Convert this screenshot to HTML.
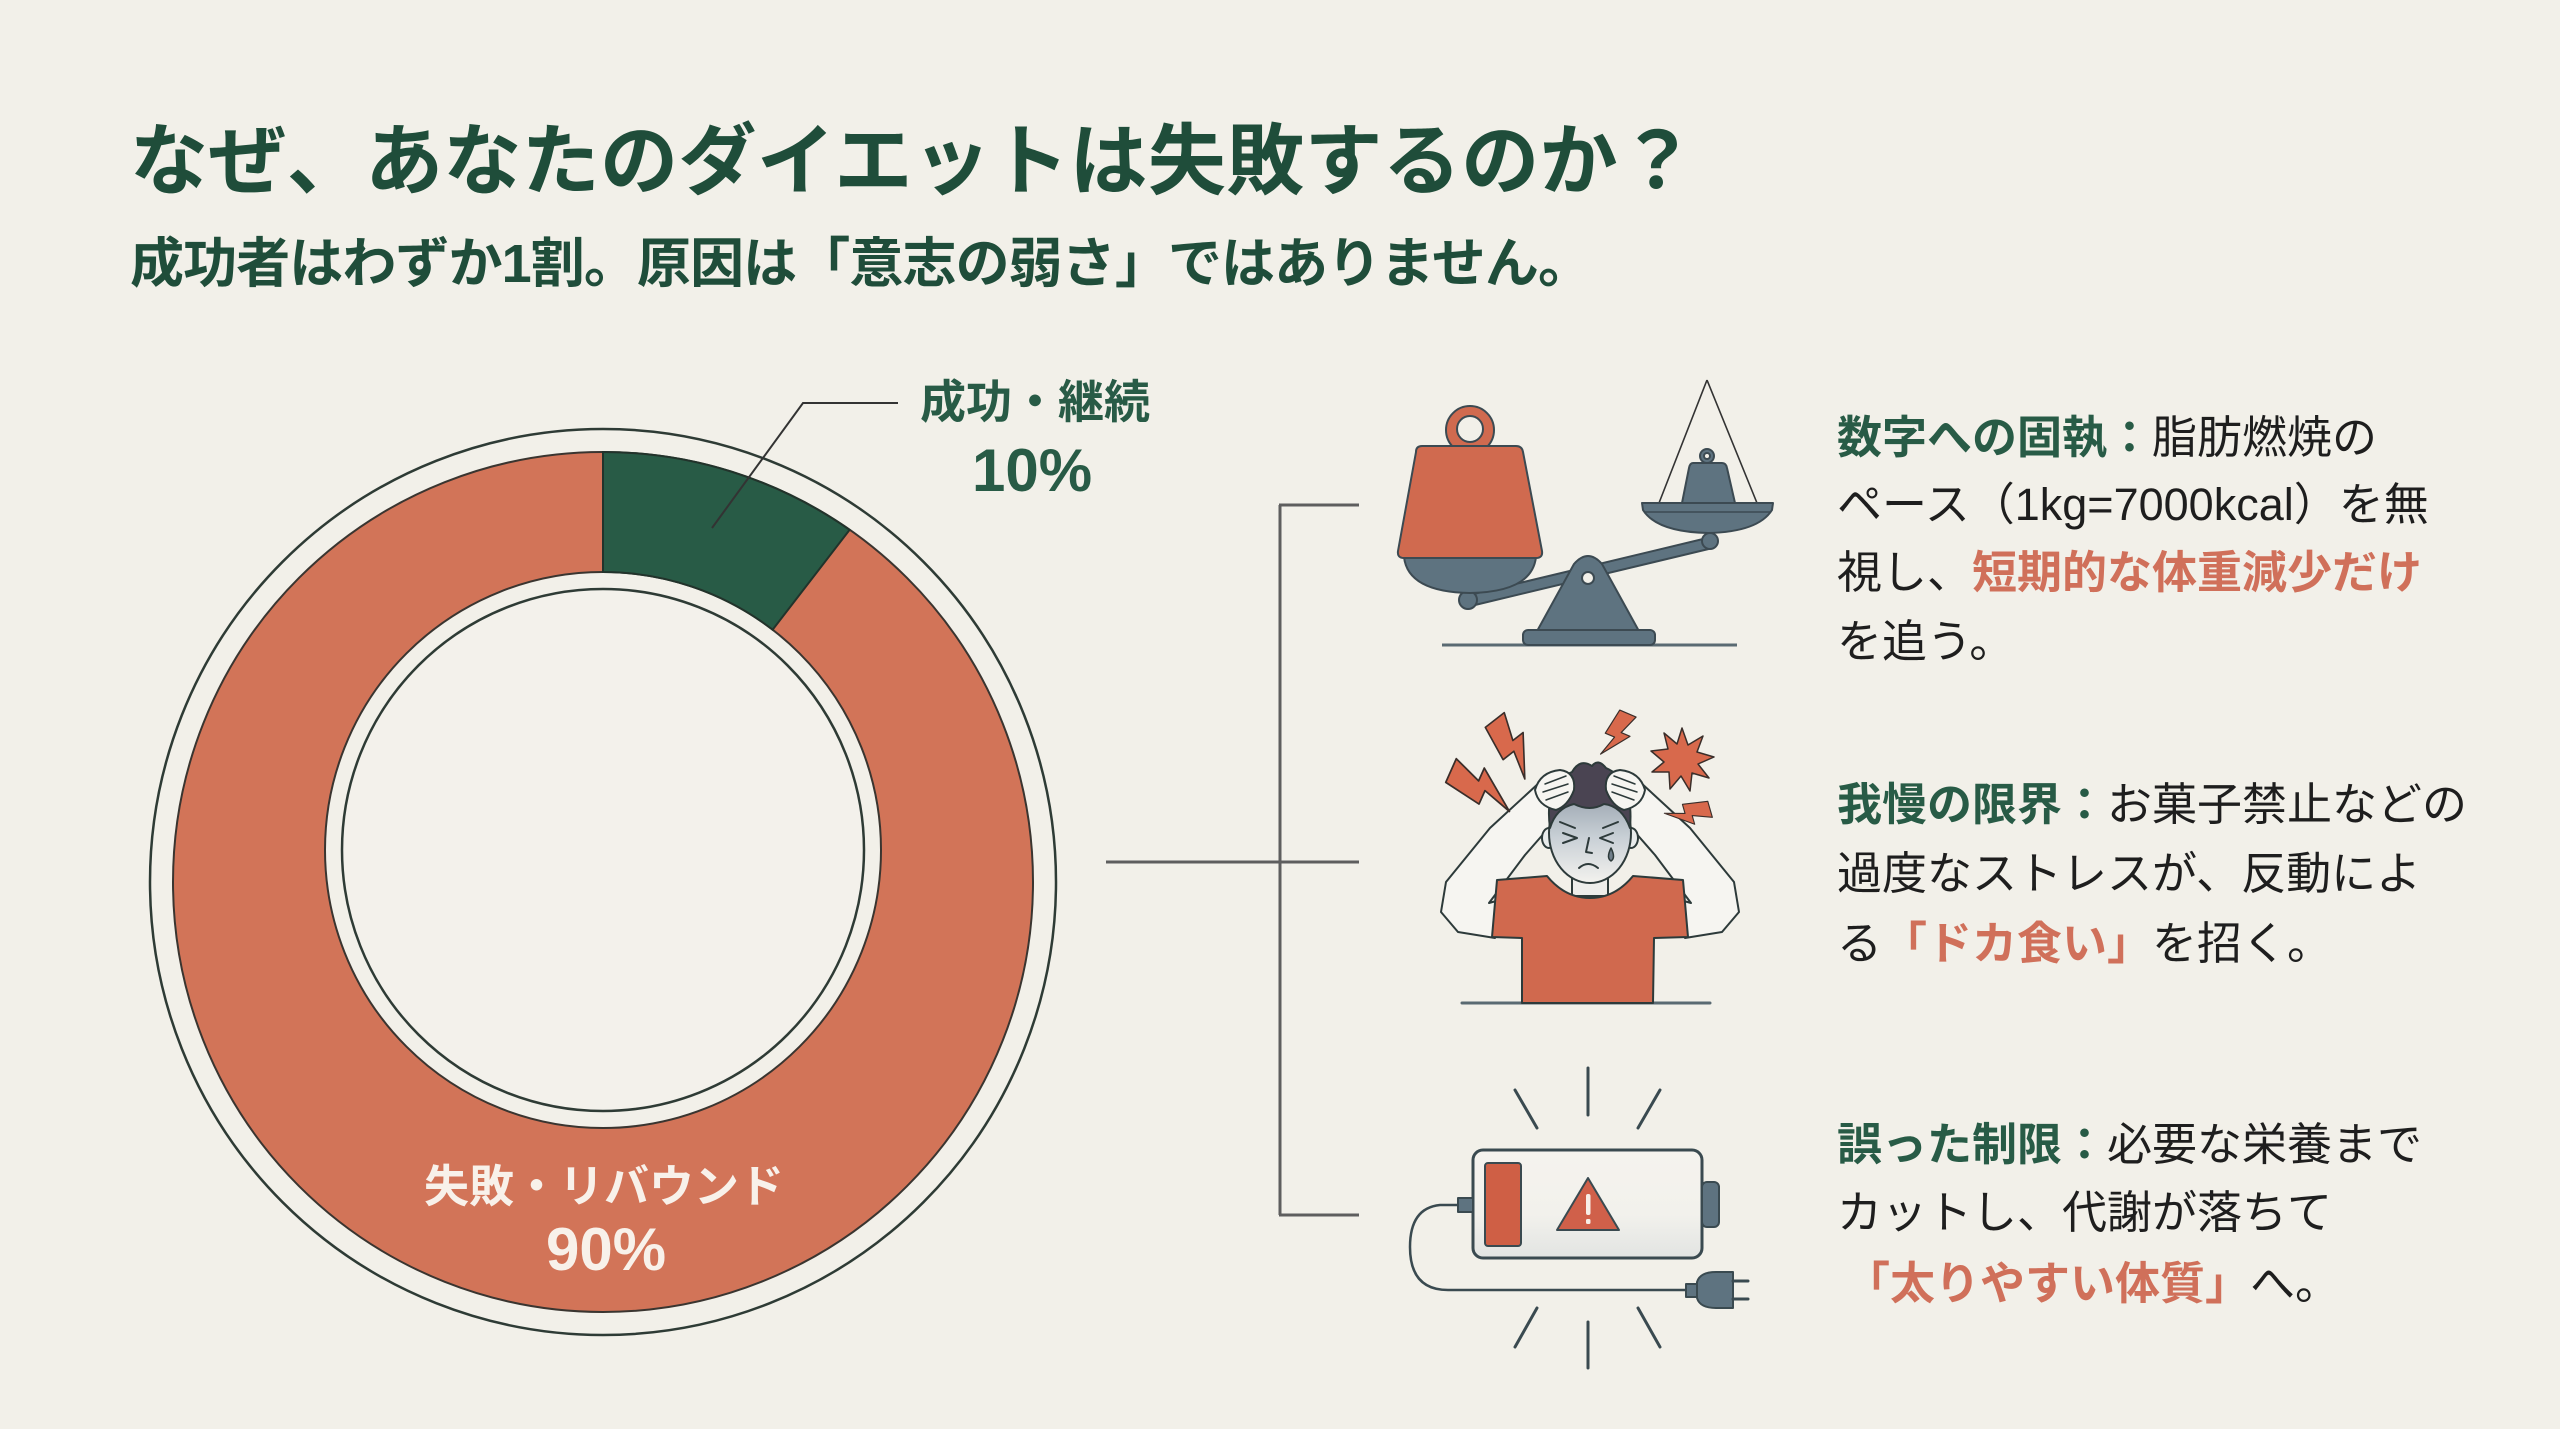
<!DOCTYPE html>
<html lang="ja">
<head>
<meta charset="utf-8">
<style>
  html,body{margin:0;padding:0;background:#F2F0E9;}
  svg{display:block;}
  text{font-family:"Liberation Sans","Noto Sans CJK JP",sans-serif;}
</style>
</head>
<body>
<svg width="2560" height="1429" viewBox="0 0 2560 1429" xmlns="http://www.w3.org/2000/svg">
  <defs>
    <linearGradient id="faceG" x1="0" y1="0" x2="0" y2="1">
      <stop offset="0" stop-color="#8E9AA6"/>
      <stop offset="0.55" stop-color="#C9D0D6"/>
      <stop offset="1" stop-color="#F3F2EE"/>
    </linearGradient>
    <linearGradient id="batG" x1="0" y1="0" x2="0" y2="1">
      <stop offset="0" stop-color="#F5F3EE"/>
      <stop offset="0.6" stop-color="#F2F1EC"/>
      <stop offset="1" stop-color="#E2E4E2"/>
    </linearGradient>
    <path id="bolt" d="M-0.15,-0.5 L0.22,-0.5 L0.06,-0.08 L0.26,-0.08 L-0.16,0.5 L-0.03,0.06 L-0.24,0.06 Z"/>
  </defs>

  <rect x="0" y="0" width="2560" height="1429" fill="#F2F0E9"/>

  <!-- Title -->
  <text x="130" y="188" font-size="78" font-weight="bold" fill="#1F4D3A" textLength="1566" lengthAdjust="spacing">なぜ、あなたのダイエットは失敗するのか？</text>
  <text x="130" y="282" font-size="54" font-weight="bold" fill="#1F4D3A" textLength="1462" lengthAdjust="spacing">成功者はわずか1割。原因は「意志の弱さ」ではありません。</text>

  <!-- Donut -->
  <circle cx="603" cy="882" r="453" fill="none" stroke="#2E3B35" stroke-width="2.5"/>
  <path fill="#D27458" fill-rule="evenodd" stroke="#3A3530" stroke-width="2"
        d="M173,882 A430,430 0 1,0 1033,882 A430,430 0 1,0 173,882 Z M325,850 A278,278 0 1,0 881,850 A278,278 0 1,0 325,850 Z"/>
  <path fill="#285B46" stroke="#22332B" stroke-width="2"
        d="M603,452 A430,430 0 0,1 849.6,529.8 L772.6,629.7 A278,278 0 0,0 603,572 Z"/>
  <circle cx="603" cy="850" r="261" fill="#F3F1EB" stroke="#2E3B35" stroke-width="2.5"/>

  <!-- Leader line -->
  <polyline points="712,528 803,403 898,403" fill="none" stroke="#333" stroke-width="2"/>
  <text x="1035" y="418" font-size="46" font-weight="bold" fill="#285B46" text-anchor="middle">成功・継続</text>
  <text x="1032" y="491" font-size="60" font-weight="bold" fill="#285B46" text-anchor="middle">10%</text>

  <text x="604" y="1202" font-size="45" font-weight="bold" fill="#F8F1EA" text-anchor="middle">失敗・リバウンド</text>
  <text x="606" y="1270" font-size="60" font-weight="bold" fill="#F8F1EA" text-anchor="middle">90%</text>

  <!-- Bracket lines -->
  <g stroke="#5E5E5E" stroke-width="3" fill="none">
    <line x1="1106" y1="862" x2="1359" y2="862"/>
    <line x1="1280" y1="505" x2="1280" y2="1215"/>
    <line x1="1279" y1="505" x2="1359" y2="505"/>
    <line x1="1279" y1="1215" x2="1359" y2="1215"/>
  </g>

  <!-- Scale icon -->
  <g stroke="#3C4A52" stroke-width="2" stroke-linejoin="round">
    <line x1="1442" y1="645" x2="1737" y2="645" stroke="#5A6A72" stroke-width="3"/>
    <!-- right pan strings -->
    <line x1="1707" y1="380" x2="1659" y2="503" stroke="#333" stroke-width="1.6"/>
    <line x1="1707" y1="380" x2="1757" y2="503" stroke="#333" stroke-width="1.6"/>
    <!-- beam -->
    <line x1="1468" y1="601" x2="1710" y2="543" stroke="#3C4A52" stroke-width="13" stroke-linecap="round"/>
    <line x1="1468" y1="601" x2="1710" y2="543" stroke="#5E7380" stroke-width="9" stroke-linecap="round"/>
    <circle cx="1468" cy="600" r="9" fill="#5E7380"/>
    <circle cx="1710" cy="541" r="8" fill="#5E7380"/>
    <!-- fulcrum -->
    <path d="M1536,633 L1574,564 Q1588,548 1602,564 L1640,633 Z" fill="#5E7380"/>
    <circle cx="1588" cy="578" r="6" fill="#F2F0E9"/>
    <rect x="1523" y="630" width="132" height="15" rx="5" fill="#5E7380"/>
    <!-- left bowl -->
    <path d="M1404,557 L1536,557 Q1532,592 1470,593 Q1408,592 1404,557 Z" fill="#5E7380"/>
    <!-- big weight -->
    <circle cx="1470" cy="430" r="24" fill="#D06A4F"/>
    <circle cx="1470" cy="429" r="13" fill="#F2F0E9"/>
    <path d="M1416,452 Q1416,446 1422,446 L1516,446 Q1522,446 1523,452 L1542,551 Q1543,558 1536,558 L1404,558 Q1397,558 1398,551 Z" fill="#D06A4F"/>
    <!-- small weight -->
    <circle cx="1707" cy="456" r="7" fill="#5E7380"/>
    <circle cx="1707" cy="456" r="3" fill="#F2F0E9"/>
    <path d="M1693,463 L1722,463 Q1726,463 1727,468 L1735,503 L1682,503 L1689,468 Q1690,463 1693,463 Z" fill="#5E7380"/>
    <!-- pan -->
    <path d="M1642,503 L1773,503 L1772,510 Q1758,532 1708,533 Q1657,532 1643,510 Z" fill="#5E7380"/>
    <line x1="1644" y1="512" x2="1771" y2="512" stroke="#3C4A52" stroke-width="1.5"/>
  </g>

  <!-- Stressed person icon -->
  <g stroke="#2D3A3A" stroke-width="2" stroke-linejoin="round" stroke-linecap="round">
    <line x1="1462" y1="1003" x2="1710" y2="1003" stroke="#5A6A72" stroke-width="3"/>
    <!-- arms -->
    <path id="armL" d="M1540,782 L1490,828 L1446,882 L1441,912 L1458,932 L1495,938 L1500,900 L1489,903 L1525,855 L1553,823 L1565,800 Z" fill="#F6F5F1"/>
    <path d="M1540,782 L1490,828 L1446,882 L1441,912 L1458,932 L1495,938 L1500,900 L1489,903 L1525,855 L1553,823 L1565,800 Z" fill="#F6F5F1" transform="translate(3180,0) scale(-1,1)"/>
    <!-- neck -->
    <rect x="1572" y="862" width="36" height="34" fill="#EDEDEA"/>
    <!-- shirt -->
    <path d="M1497,880 L1547,876 Q1565,898 1590,898 Q1615,898 1633,876 L1683,880 L1688,937 L1654,938 L1653,1003 L1522,1003 L1522,938 L1492,937 Z" fill="#D0694E"/>
    <!-- head -->
    <ellipse cx="1549" cy="838" rx="7" ry="10" fill="#E9ECEC"/>
    <ellipse cx="1631" cy="838" rx="7" ry="10" fill="#E9ECEC"/>
    <ellipse cx="1590" cy="833" rx="41" ry="50" fill="url(#faceG)"/>
    <!-- hair -->
    <path d="M1550,828 Q1544,784 1572,772 Q1580,758 1592,766 Q1598,758 1606,768 Q1634,780 1630,828 Q1622,806 1604,804 Q1590,812 1574,804 Q1556,808 1550,828 Z" fill="#4A4452"/>
    <!-- face details -->
    <path d="M1563,833 L1577,838 L1563,843" fill="none"/>
    <path d="M1613,833 L1600,838 L1613,843" fill="none"/>
    <path d="M1560,822 L1575,828" fill="none"/>
    <path d="M1618,822 L1603,828" fill="none"/>
    <path d="M1589,838 L1586,852 L1592,853" fill="none"/>
    <path d="M1579,868 Q1588,860 1598,868" fill="none"/>
    <path d="M1611,848 Q1606,858 1611,861 Q1616,858 1611,848 Z" fill="#6F7E8A" stroke-width="1.5"/>
    <!-- hands -->
    <path d="M1535,790 Q1540,772 1560,770 Q1576,772 1574,790 Q1568,806 1556,810 Q1538,806 1535,790 Z" fill="#F6F5F1"/>
    <path d="M1545,784 L1566,776 M1543,792 L1568,784 M1546,800 L1568,792" fill="none" stroke-width="1.5"/>
    <path d="M1535,790 Q1540,772 1560,770 Q1576,772 1574,790 Q1568,806 1556,810 Q1538,806 1535,790 Z" fill="#F6F5F1" transform="translate(3180,0) scale(-1,1)"/>
    <path d="M1545,784 L1566,776 M1543,792 L1568,784 M1546,800 L1568,792" fill="none" stroke-width="1.5" transform="translate(3180,0) scale(-1,1)"/>
    <!-- bolts -->
    <g fill="#D8694C" stroke="#3A2E2A" stroke-width="0.025">
      <use href="#bolt" transform="translate(1482,787) rotate(-66) scale(70)"/>
      <use href="#bolt" transform="translate(1513,747) rotate(-38) scale(65)"/>
      <use href="#bolt" transform="translate(1617,735) rotate(23) scale(48)"/>
      <use href="#bolt" transform="translate(1688,814) rotate(74) scale(45)"/>
    </g>
    <polygon fill="#D8694C" stroke="#3A2E2A" stroke-width="1.5"
      points="1682,728 1688,745 1703,736 1697,752 1714,757 1698,764 1709,778 1692,773 1690,791 1681,776 1670,789 1669,772 1652,772 1664,762 1651,751 1668,749 1664,733 1677,744"/>
  </g>

  <!-- Battery icon -->
  <g stroke="#3A4A50" stroke-width="3" stroke-linecap="round" stroke-linejoin="round" fill="none">
    <line x1="1588" y1="1068" x2="1588" y2="1115"/>
    <line x1="1515" y1="1090" x2="1537" y2="1128"/>
    <line x1="1660" y1="1090" x2="1638" y2="1128"/>
    <line x1="1588" y1="1322" x2="1588" y2="1368"/>
    <line x1="1537" y1="1308" x2="1515" y2="1347"/>
    <line x1="1638" y1="1308" x2="1660" y2="1347"/>
    <path d="M1458,1205 L1440,1205 Q1410,1208 1410,1247 Q1410,1290 1448,1290 L1688,1290" stroke-width="2.5"/>
    <rect x="1473" y="1150" width="229" height="108" rx="10" fill="url(#batG)"/>
    <rect x="1702" y="1182" width="17" height="45" rx="5" fill="#5E7380" stroke-width="2"/>
    <rect x="1458" y="1198" width="15" height="14" fill="#5E7380" stroke-width="2"/>
    <rect x="1485" y="1163" width="36" height="83" rx="3" fill="#CF5F45" stroke-width="2"/>
    <path d="M1588,1178 L1619,1230 L1557,1230 Z" fill="#D0604A" stroke-width="2"/>
    <rect x="1686" y="1284" width="11" height="13" fill="#5E7380" stroke-width="2"/>
    <path d="M1697,1282 Q1700,1272 1716,1272 L1733,1272 L1733,1308 L1716,1308 Q1700,1308 1697,1298 Z" fill="#5E7380" stroke-width="2"/>
    <line x1="1733" y1="1281" x2="1748" y2="1281"/>
    <line x1="1733" y1="1299" x2="1748" y2="1299"/>
  </g>
  <rect x="1586" y="1194" width="4.5" height="21" rx="2" fill="#F7EEE8"/>
  <rect x="1586" y="1219" width="4.5" height="5" rx="1.5" fill="#F7EEE8"/>

  <!-- Text blocks -->
  <g font-size="45" fill="#1E1E1E">
    <text x="1837" y="453"><tspan font-weight="bold" fill="#285B46">数字への固執：</tspan>脂肪燃焼の</text>
    <text x="1837" y="520">ペース（1kg=7000kcal）を無</text>
    <text x="1837" y="588">視し、<tspan font-weight="bold" fill="#D0705A">短期的な体重減少だけ</tspan></text>
    <text x="1837" y="657">を追う。</text>

    <text x="1837" y="820"><tspan font-weight="bold" fill="#285B46">我慢の限界：</tspan>お菓子禁止などの</text>
    <text x="1837" y="889">過度なストレスが、反動によ</text>
    <text x="1837" y="959">る<tspan font-weight="bold" fill="#D0705A">「ドカ食い」</tspan>を招く。</text>

    <text x="1837" y="1160"><tspan font-weight="bold" fill="#285B46">誤った制限：</tspan>必要な栄養まで</text>
    <text x="1837" y="1228">カットし、代謝が落ちて</text>
    <text x="1845" y="1299"><tspan font-weight="bold" fill="#D0705A">「太りやすい体質」</tspan>へ。</text>
  </g>
</svg>
</body>
</html>
